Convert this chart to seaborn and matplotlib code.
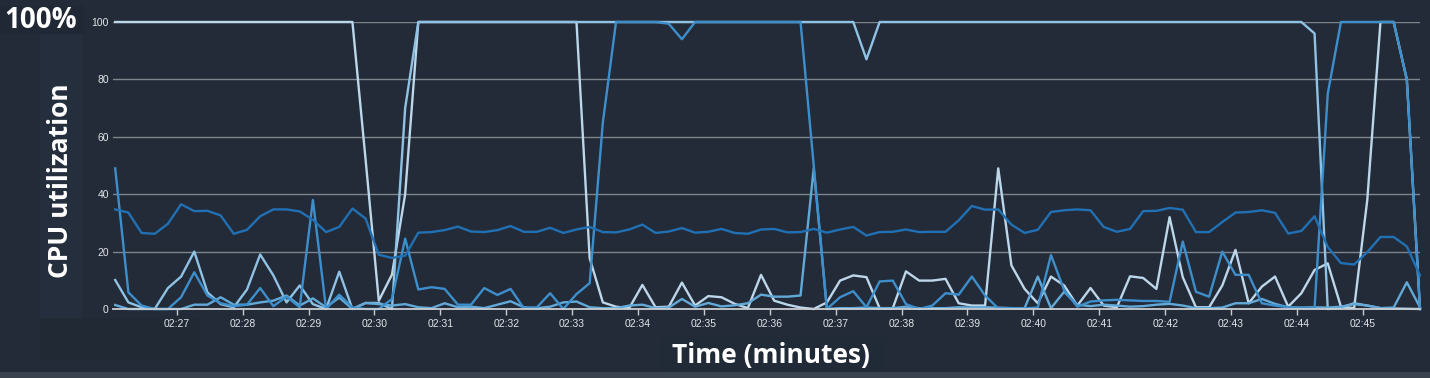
import numpy as np
import pandas as pd
import matplotlib
matplotlib.use("Agg")
import matplotlib.pyplot as plt
from matplotlib.patches import Rectangle
import seaborn as sns

# ---------------- data ----------------
start_offset_s = 4      # first sample at 02:26:04
step_s = 12             # one sample every 12 s
tick_labels = ["02:27", "02:28", "02:29", "02:30", "02:31", "02:32", "02:33",
               "02:34", "02:35", "02:36", "02:37", "02:38", "02:39", "02:40",
               "02:41", "02:42", "02:43", "02:44", "02:45"]
y_ticks = [0, 20, 40, 60, 80, 100]

series_names = ["instance-1", "instance-2", "instance-3", "instance-4", "instance-5"]

inst1 = [100] * 19 + [52, 2.9, 12, 40] + [100] * 13 + [
    17.7, 2.3, 0.8, 0.3, 8.4, 0.6, 0.8, 9.2, 1.2, 4.5, 4.1, 1.8, 0.3, 11.9,
    2.9, 1.5, 0.5, 0, 2.3, 9.9, 11.7, 11.1, 0.3, 0.3, 13.1, 9.9, 9.9, 10.5,
    2.0, 1.2, 1.2, 49, 15.2, 7.0, 2.0, 11.3, 8.2, 1.2, 7.3, 1.2, 0.6, 11.4,
    10.8, 7.0, 32, 11.1, 0.6, 0.6, 8.2, 20.6, 2.0, 7.8, 11.3, 0.8, 5.5, 13.6,
    15.9, 0.8, 0.3, 38, 100, 100, 80, 0]

inst2 = [10.1, 2.3, 0.6, 0, 7.3, 11.3, 20, 5.8, 1.7, 0.6, 6.8, 19, 11.7, 2.3,
         8.2, 1.7, 0, 13, 0, 2.1, 2.1, 0, 70] + [100] * 34 + [87] + [100] * 33 + [
         96, 0, 0.5, 2.0, 1.2, 0.3, 0.2, 0.1, 0]

inst3 = [1.4, 0, 0, 0, 0, 0, 1.5, 1.5, 4.1, 1.5, 1.5, 2.3, 2.9, 4.7, 1.2, 3.7,
         0.6, 4, 0, 2.1, 1.7, 1.2, 1.7, 0.6, 0.3, 2.0, 0.6, 0.8, 0.3, 1.5, 2.7,
         0.6, 0.3, 0.8, 2.3, 2.6, 0.6, 0.3, 0.3, 1.2, 1.5, 0.3, 0.5, 3.5, 0.8,
         2.1, 0.9, 1.3, 2.0, 5.0, 4.3, 4.3, 4.7, 49, 0, 0.3, 0.3, 0.5, 0.3, 0.3,
         0.8, 0.3, 0.3, 0.3, 0.6, 0.5, 0.6, 0.5, 0.3, 0.3, 11.3, 0.3, 6.0, 1.5,
         1.0, 1.5, 1.2, 0.8, 1.0, 1.5, 1.8, 1.2, 0.3, 0.3, 0.5, 2.0, 2.0, 3.5,
         1.8, 0.6, 0.5, 0.6, 0.5, 0.8, 1.7, 1.2, 0.3, 0.5, 9.3, 0.6]

inst4 = [49, 5.8, 1.2, 0, 0, 4.1, 12.8, 4.7, 2.0, 1.0, 1.5, 7.3, 1.0, 4.3, 0.6,
         38, 0, 5, 0.5, 0, 0, 3.5, 24.5, 6.8, 7.6, 7.0, 1.5, 1.5, 7.3, 4.9, 7.0,
         0.3, 0.6, 5.5, 0, 5.2, 9.0, 65, 100, 100, 100, 100, 99.4, 94, 100, 100,
         100, 100, 100, 100, 100, 100, 100, 50, 0, 4.1, 6.2, 0.6, 9.6, 9.9, 1.7,
         0, 1.2, 5.5, 5.0, 11.3, 4.7, 0.2, 0.3, 0.2, 0.5, 18.8, 6.6, 0.8, 2.6,
         3.0, 3.2, 3.0, 2.8, 2.8, 2.5, 23.5, 6.0, 4.3, 20, 11.9, 11.9, 2.0, 1.2,
         0.6, 0.3, 0.3, 75, 100, 100, 100, 100, 100, 80, 0]

inst5 = [34.7, 33.6, 26.5, 26.2, 29.7, 36.5, 34.1, 34.2, 32.6, 26.2, 27.6, 32.3,
         34.7, 34.7, 34.0, 31.1, 26.8, 28.6, 35.0, 31.5, 18.9, 17.8, 18.6, 26.6,
         26.8, 27.5, 28.7, 27.0, 26.8, 27.5, 28.9, 26.9, 26.9, 28.3, 26.5, 27.7,
         28.6, 26.8, 26.7, 27.7, 29.4, 26.5, 27.0, 28.2, 26.6, 26.9, 27.9, 26.5,
         26.2, 27.7, 27.9, 26.7, 26.8, 27.9, 26.6, 27.7, 28.6, 25.6, 26.8, 26.9,
         27.7, 26.8, 26.9, 26.9, 30.9, 35.9, 34.6, 34.7, 29.4, 26.5, 27.6, 33.8,
         34.4, 34.7, 34.4, 28.6, 26.9, 27.9, 34.1, 34.2, 35.2, 34.6, 26.8, 26.8,
         30.3, 33.6, 33.8, 34.4, 33.5, 26.3, 27.2, 32.3, 21.6, 16.0, 15.5, 19.8,
         25.1, 25.1, 21.8, 11.7]

palette = ["#bcd6ea", "#8fc2e4", "#62a9d8", "#3d8fcc", "#2170b4"]

# ---------------- build table ----------------
all_series = [inst1, inst2, inst3, inst4, inst5]
frames = []
for name, vals in zip(series_names, all_series):
    n = len(vals)
    t = start_offset_s + step_s * np.arange(n)
    frames.append(pd.DataFrame({"t": t, "cpu": vals, "series": name}))
df = pd.concat(frames, ignore_index=True)

def label_to_s(lbl):
    h, m = lbl.split(":")
    return (int(m) - 26) * 60

tick_pos = [label_to_s(l) for l in tick_labels]

# ---------------- figure ----------------
BG = "#232b38"
W, H = 1430, 378
fig = plt.figure(figsize=(W / 100, H / 100), dpi=100, facecolor=BG)

# subtle pasted-label panels
def fig_rect(x0, y0, x1, y1, color):
    fig.patches.append(Rectangle((x0 / W, 1 - y1 / H), (x1 - x0) / W, (y1 - y0) / H,
                                 transform=fig.transFigure, facecolor=color,
                                 edgecolor="none", zorder=0))

fig_rect(0, 6, 84, 34, "#202835")
fig_rect(40, 34, 82, 318, "#242e3d")
fig_rect(40, 318, 200, 360, "#212935")
fig_rect(660, 338, 886, 372, "#212a37")
fig_rect(0, 372, 1430, 378, "#3a424e")

left_px, right_px, top_px, bot_px = 113, 1420, 22, 309
ax = fig.add_axes([left_px / W, 1 - bot_px / H, (right_px - left_px) / W,
                   (bot_px - top_px) / H])
ax.set_facecolor("none")
ax.set_zorder(3)

sns.lineplot(data=df, x="t", y="cpu", hue="series", hue_order=series_names,
             palette=palette, estimator=None, linewidth=1.7, ax=ax,
             legend=False, sort=False)
for ln in ax.get_lines():
    ln.set_clip_on(False)

ax.set_xlim(2, start_offset_s + step_s * 99)
ax.set_ylim(0, 100)
ax.set_yticks(y_ticks)
ax.set_yticklabels([str(v) for v in y_ticks])
ax.set_xticks(tick_pos)
ax.set_xticklabels(tick_labels)

ax.grid(axis="y", color="#7e848c", linewidth=1.0)
ax.grid(axis="x", visible=False)
ax.set_axisbelow(True)
for s in ["top", "right", "left"]:
    ax.spines[s].set_visible(False)
ax.spines["bottom"].set_color("#c9cdd2")
ax.spines["bottom"].set_linewidth(1.3)

ax.tick_params(axis="y", length=0, pad=3, labelsize=7.5, labelcolor="#e3e6ea")
ax.tick_params(axis="x", length=4, width=1, color="#c9cdd2", pad=3,
               labelsize=7.5, labelcolor="#e3e6ea")
for lbl in ax.get_xticklabels() + ax.get_yticklabels():
    lbl.set_family("Liberation Sans")
ax.set_xlabel("")
ax.set_ylabel("")

# titles / labels
fig.text(41 / W, 1 - 20 / H, "100%", ha="center", va="center", color="white",
         fontsize=20, fontweight="bold", family="Open Sans", zorder=4)
fig.text(61 / W, 1 - 181 / H, "CPU utilization", ha="center", va="center",
         rotation=90, color="white", fontsize=19, fontweight="bold",
         family="Open Sans", zorder=4)
fig.text(771 / W, 1 - 355 / H, "Time (minutes)", ha="center", va="center",
         color="white", fontsize=19, fontweight="bold", family="Open Sans",
         zorder=4)

fig.savefig("out.png", dpi=100, facecolor=BG)
